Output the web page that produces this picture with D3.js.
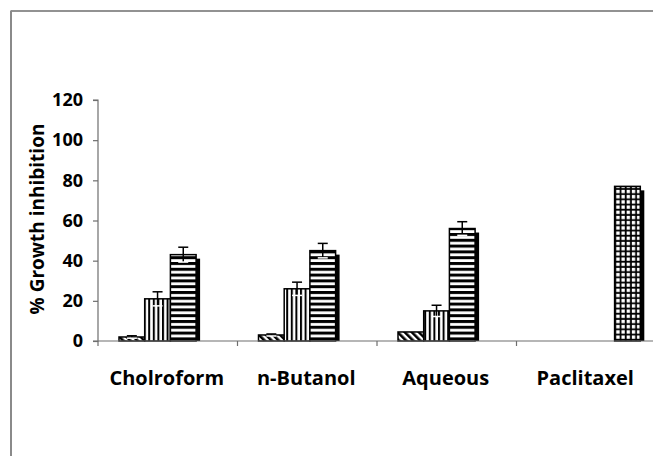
<!DOCTYPE html>
<html><head><meta charset="utf-8">
<script src="https://cdn.jsdelivr.net/npm/d3@7"></script>
<style>
html,body{margin:0;padding:0;background:#fff;}
svg{display:block;}
text{font-family:"Open Sans","Noto Sans",sans-serif;font-weight:700;fill:#000;}
</style></head>
<body>
<svg id="chart" width="653" height="456"></svg>
<script>
const categories = ["Cholroform", "n-Butanol", "Aqueous", "Paclitaxel"];
const seriesNames = ["s1", "s2", "s3", "s4"];
const seriesS1 = [2, 3, 4.5, null];
const seriesS2 = [21, 26, 15, null];
const seriesS3 = [43, 45, 56, null];
const seriesS4 = [null, null, null, 77];
const errS1 = [0.6, 0.5, 0, 0];
const errS2 = [3.5, 3.3, 2.8, 0];
const errS3 = [3.7, 3.6, 3.4, 0];
const errS4 = [0, 0, 0, 0];
const yTicks = [0, 20, 40, 60, 80, 100, 120];
const yTitle = "% Growth inhibition";

const values = [seriesS1, seriesS2, seriesS3, seriesS4];
const errs = [errS1, errS2, errS3, errS4];
const patterns = ["pDiag", "pVert", "pHoriz", "pGrid"];

const svg = d3.select("#chart");

// frame (top and left lines)
svg.append("line").attr("x1", 11).attr("x2", 653).attr("y1", 11).attr("y2", 11)
  .attr("stroke", "#6e6e6e").attr("stroke-width", 1.5);
svg.append("line").attr("x1", 11).attr("x2", 11).attr("y1", 10.5).attr("y2", 456)
  .attr("stroke", "#8a8a8a").attr("stroke-width", 2);

// patterns
const defs = svg.append("defs");
const pd = defs.append("pattern").attr("id", "pDiag").attr("patternUnits", "userSpaceOnUse")
  .attr("width", 5).attr("height", 5).attr("patternTransform", "rotate(-45)");
pd.append("rect").attr("width", 5).attr("height", 5).attr("fill", "#fff");
pd.append("rect").attr("width", 2.6).attr("height", 5).attr("fill", "#000");

const pv = defs.append("pattern").attr("id", "pVert").attr("patternUnits", "userSpaceOnUse")
  .attr("width", 4.6).attr("height", 4).attr("x", 1);
pv.append("rect").attr("width", 4.6).attr("height", 4).attr("fill", "#fff");
pv.append("rect").attr("width", 2).attr("height", 4).attr("fill", "#000");

const ph = defs.append("pattern").attr("id", "pHoriz").attr("patternUnits", "userSpaceOnUse")
  .attr("width", 4).attr("height", 5.8).attr("y", 1);
ph.append("rect").attr("width", 4).attr("height", 5.8).attr("fill", "#fff");
ph.append("rect").attr("width", 4).attr("height", 3).attr("fill", "#000");

const pg = defs.append("pattern").attr("id", "pGrid").attr("patternUnits", "userSpaceOnUse")
  .attr("width", 5.2).attr("height", 5.2).attr("x", 1).attr("y", 1);
pg.append("rect").attr("width", 5.2).attr("height", 5.2).attr("fill", "#000");
pg.append("rect").attr("x", 1.6).attr("y", 1.6).attr("width", 3.4).attr("height", 3.4).attr("fill", "#fff");

const x = d3.scaleBand().domain(categories).range([98, 656]).paddingInner(0).paddingOuter(0);
const y = d3.scaleLinear().domain([0, 120]).range([341, 100]);
const inner = d3.scaleBand().domain(seriesNames).range([21, 21 + 4 * 25.7]);

// bars
const gBars = svg.append("g");
values.forEach((vals, si) => {
  vals.forEach((v, ci) => {
    if (v === null) return;
    const bx = x(categories[ci]) + inner(seriesNames[si]);
    const bw = inner.bandwidth();
    const top = y(v);
    gBars.append("rect").attr("x", bx + 4).attr("y", top + 4)
      .attr("width", bw).attr("height", Math.max(0, y(0) - top - 4)).attr("fill", "#000");
    gBars.append("rect").attr("x", bx).attr("y", top)
      .attr("width", bw).attr("height", y(0) - top)
      .attr("fill", "url(#" + patterns[si] + ")")
      .attr("stroke", "#000").attr("stroke-width", 1.5);
  });
});

// error bars
const gErr = svg.append("g").attr("stroke", "#000").attr("stroke-width", 1.5);
values.forEach((vals, si) => {
  vals.forEach((v, ci) => {
    const e = errs[si][ci];
    if (v === null || !e) return;
    const cx = x(categories[ci]) + inner(seriesNames[si]) + inner.bandwidth() / 2;
    gErr.append("line").attr("x1", cx).attr("x2", cx).attr("y1", y(v + e)).attr("y2", y(v - e));
    gErr.append("line").attr("x1", cx - 5).attr("x2", cx + 5).attr("y1", y(v + e)).attr("y2", y(v + e));
    gErr.append("line").attr("x1", cx - 5).attr("x2", cx + 5).attr("y1", y(v - e)).attr("y2", y(v - e)).attr("stroke", "#fff");
  });
});

// y axis
const yAxis = d3.axisLeft(y).tickValues(yTicks).tickSize(5).tickPadding(10);
const gy = svg.append("g").attr("transform", "translate(98,0)").call(yAxis);
gy.selectAll("path,line").attr("stroke", "#6e6e6e").attr("stroke-width", 1.2);
gy.select(".domain").attr("d", "M-5," + y(120) + "H0V" + y(0) + "H-5");
gy.selectAll("text").style("font-size", "18px").style("font-weight", 700)
  .style("font-family", "'Open Sans','Noto Sans',sans-serif").attr("fill", "#000");

// x axis
const gx = svg.append("g").attr("transform", "translate(0,341)");
gx.append("line").attr("x1", 98).attr("x2", 656).attr("y1", 0).attr("y2", 0)
  .attr("stroke", "#6e6e6e").attr("stroke-width", 1.2);
const boundaries = categories.map(c => x(c)).concat([x.range()[1]]);
gx.selectAll("line.tk").data(boundaries).join("line").attr("class", "tk")
  .attr("x1", d => d).attr("x2", d => d).attr("y1", 0).attr("y2", 5)
  .attr("stroke", "#6e6e6e").attr("stroke-width", 1.2);
gx.selectAll("text").data(categories).join("text")
  .attr("x", d => x(d) + x.bandwidth() / 2 - 1).attr("y", 44)
  .attr("text-anchor", "middle").style("font-size", "20px").text(d => d);

// y title
svg.append("text").attr("transform", "translate(44,219) rotate(-90)")
  .attr("text-anchor", "middle").style("font-size", "19px").text(yTitle);
</script>
</body></html>
